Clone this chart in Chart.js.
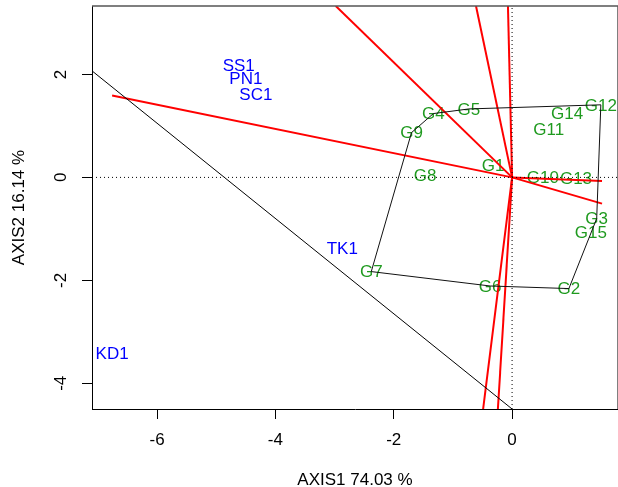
<!DOCTYPE html>
<html>
<head>
<meta charset="utf-8">
<script src="https://cdn.jsdelivr.net/npm/chart.js@4.4.1/dist/chart.umd.min.js"></script>
<style>
html, body { margin: 0; padding: 0; background: #fff; overflow: hidden; }
#wrap { width: 618px; height: 487px; }
</style>
</head>
<body>
<div id="wrap"><canvas id="biplot" width="618" height="487"></canvas></div>
<script>
// Genotipos (etiquetas verdes)
const genoNames = ['G1', 'G2', 'G3', 'G4', 'G5', 'G6', 'G7', 'G8', 'G9', 'G10', 'G11', 'G12', 'G13', 'G14', 'G15'];
const genoX = [-0.32, 0.96, 1.43, -1.33, -0.73, -0.37, -2.38, -1.47, -1.70, 0.52, 0.62, 1.50, 1.08, 0.93, 1.33];
const genoY = [0.23, -2.16, -0.80, 1.24, 1.33, -2.11, -1.83, 0.04, 0.87, 0.00, 0.93, 1.41, -0.02, 1.24, -1.06];

// Ambientes (etiquetas azules)
const envNames = ['SS1', 'PN1', 'SC1', 'TK1', 'KD1'];
const envX = [-4.62, -4.50, -4.33, -2.87, -6.76];
const envY = [2.17, 1.93, 1.62, -1.37, -3.42];

// Poligono: orden de los vertices (nombres de genotipos)
const hullOrder = ['G12', 'G5', 'G4', 'G9', 'G7', 'G6', 'G2', 'G3', 'G12'];

// Rayos rojos desde el origen (extremos)
const rayX = [-6.76, -2.98, -0.61, -0.07, -0.49, -0.24, 1.52, 1.52];
const rayY = [1.59, 3.33, 3.33, 3.33, -4.50, -4.50, -0.07, -0.51];

// Linea negra diagonal
const diagX = [-7.10, 0.00];
const diagY = [2.07, -4.50];

// Limites y marcas de los ejes
const xMin = -7.10, xMax = 1.79;
const yMin = -4.50, yMax = 3.33;
const xTicks = [-6, -4, -2, 0];
const yTicks = [-4, -2, 0, 2];

const FONT = 'Liberation Sans, Arial, Helvetica, sans-serif';

const toPoints = (xs, ys) => xs.map((x, i) => ({ x: x, y: ys[i] }));

const hullData = hullOrder.map(n => {
    const i = genoNames.indexOf(n);
    return { x: genoX[i], y: genoY[i] };
});

const lineSet = (data, color, width, dash) => ({
    type: 'scatter',
    data: data,
    showLine: true,
    borderColor: color,
    borderWidth: width,
    borderDash: dash || [],
    pointRadius: 0,
    fill: false,
    tension: 0,
    clip: 0
});

const datasets = [];
// lineas punteadas en cero
datasets.push(lineSet([{ x: xMin, y: 0 }, { x: xMax, y: 0 }], '#000', 1, [1, 3]));
datasets.push(lineSet([{ x: 0, y: yMin }, { x: 0, y: yMax }], '#000', 1, [1, 3]));
// poligono
datasets.push(lineSet(hullData, '#111', 1));
// linea diagonal
datasets.push(lineSet(toPoints(diagX, diagY), '#000', 1));
// rayos
rayX.forEach((rx, i) => {
    datasets.push(lineSet([{ x: 0, y: 0 }, { x: rx, y: rayY[i] }], '#ff0000', 2));
});
// puntos con etiquetas
datasets.push({
    type: 'scatter', label: 'geno', data: toPoints(genoX, genoY),
    pointRadius: 0, names: genoNames, textColor: '#1f9a1f'
});
datasets.push({
    type: 'scatter', label: 'env', data: toPoints(envX, envY),
    pointRadius: 0, names: envNames, textColor: '#0000ff'
});

// Plugin: dibuja los nombres en la posicion de cada punto
const textLabels = {
    id: 'textLabels',
    beforeDatasetsDraw(chart) {
        const c = chart.ctx;
        c.save();
        c.font = '17px ' + FONT;
        c.textAlign = 'center';
        c.textBaseline = 'middle';
        chart.data.datasets.forEach((ds, i) => {
            if (!ds.names) return;
            c.fillStyle = ds.textColor;
            chart.getDatasetMeta(i).data.forEach((pt, j) => {
                c.fillText(ds.names[j], pt.x, pt.y + 1);
            });
        });
        c.restore();
    },
    afterDraw(chart) {
        // borde superior del marco
        const a = chart.chartArea;
        const c = chart.ctx;
        c.save();
        c.strokeStyle = '#555';
        c.lineWidth = 1.5;
        c.beginPath();
        c.moveTo(a.left, a.top);
        c.lineTo(a.right, a.top);
        c.lineTo(a.right, a.bottom);
        c.stroke();
        c.restore();
    }
};

const noPad = s => { s.paddingTop = 0; s.paddingBottom = 0; s.paddingLeft = 0; s.paddingRight = 0; };

new Chart(document.getElementById('biplot'), {
    type: 'scatter',
    data: { datasets: datasets },
    plugins: [textLabels],
    options: {
        responsive: false,
        animation: false,
        layout: { padding: { top: 6, right: 0, left: 0, bottom: 0 } },
        plugins: { legend: { display: false }, tooltip: { enabled: false } },
        scales: {
            x: {
                type: 'linear', min: xMin, max: xMax,
                afterBuildTicks: s => { s.ticks = xTicks.map(v => ({ value: v })); },
                afterFit: s => { s.height = 78; noPad(s); },
                grid: { drawOnChartArea: false, drawTicks: true, tickLength: 10, tickColor: '#000', color: '#000' },
                border: { display: true, color: '#000', width: 1 },
                ticks: { color: '#000', padding: 11, font: { family: FONT, size: 17 }, maxRotation: 0, minRotation: 0 },
                title: {
                    display: true, text: 'AXIS1 74.03 %', color: '#000',
                    font: { family: FONT, size: 17, lineHeight: 1 }, padding: { top: 0, bottom: -2 }
                }
            },
            y: {
                type: 'linear', min: yMin, max: yMax,
                afterBuildTicks: s => { s.ticks = yTicks.map(v => ({ value: v })); },
                afterFit: s => { s.width = 92; noPad(s); },
                grid: { drawOnChartArea: false, drawTicks: true, tickLength: 10, tickColor: '#000', color: '#000' },
                border: { display: true, color: '#000', width: 1 },
                ticks: { color: '#000', padding: 13, crossAlign: 'center', minRotation: 90, maxRotation: 90, font: { family: FONT, size: 17 } },
                title: {
                    display: true, text: 'AXIS2 16.14 %', color: '#000',
                    font: { family: FONT, size: 17, lineHeight: 1 }, padding: { top: 11, bottom: 0 }
                }
            }
        }
    }
});
</script>
</body>
</html>
